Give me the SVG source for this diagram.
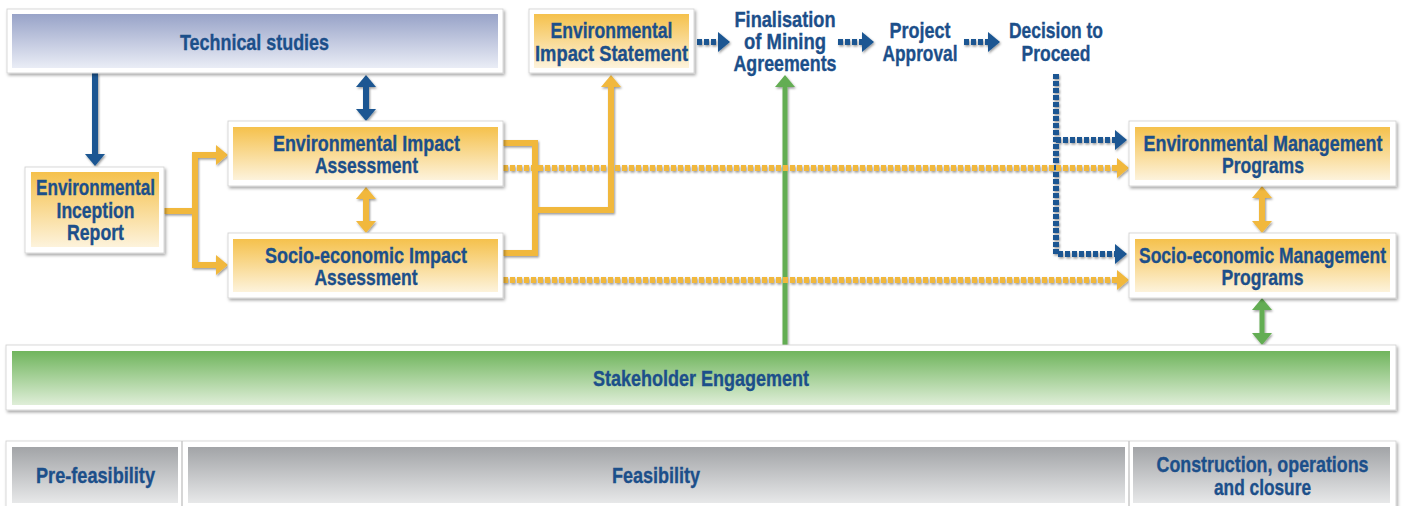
<svg xmlns="http://www.w3.org/2000/svg" width="1402" height="506" viewBox="0 0 1402 506">
<defs>
<style>
.frame{fill:#fff;stroke:#cfcfcf;stroke-width:0.8;filter:url(#sh)}
.t{font-family:"Liberation Sans Narrow","Liberation Sans",Arial,sans-serif;font-weight:bold;font-size:21.5px;fill:#1c4f8a;stroke:#1c4f8a;stroke-width:0.35;text-anchor:middle}
.lb{fill:none;stroke:#1a5692;stroke-width:6}
.lo{fill:none;stroke:#f1b83c;stroke-width:6;stroke-linejoin:miter}
.lg{fill:none;stroke:#63ad52;stroke-width:5}
.dot{stroke-dasharray:5 2}
</style>
<filter id="sh" x="-5%" y="-20%" width="110%" height="150%">
<feDropShadow dx="1.5" dy="2" stdDeviation="1.5" flood-color="#000" flood-opacity="0.35"/>
</filter>
<filter id="lsh" x="-5%" y="-5%" width="110%" height="110%">
<feDropShadow dx="1" dy="1.5" stdDeviation="0.8" flood-color="#000" flood-opacity="0.4"/>
</filter>
<linearGradient id="gBlue" x1="0" y1="0" x2="0" y2="1"><stop offset="0" stop-color="#98a3c8"/><stop offset="1" stop-color="#eaedf6"/></linearGradient>
<linearGradient id="gOr" x1="0" y1="0" x2="0" y2="1"><stop offset="0" stop-color="#f5c14c"/><stop offset="1" stop-color="#fdf3dc"/></linearGradient>
<linearGradient id="gGr" x1="0" y1="0" x2="0" y2="1"><stop offset="0" stop-color="#70b55d"/><stop offset="1" stop-color="#dfeed8"/></linearGradient>
<linearGradient id="gGy" x1="0" y1="0" x2="0" y2="1"><stop offset="0" stop-color="#a2a4a7"/><stop offset="1" stop-color="#e7e8e9"/></linearGradient>
<marker id="ab" viewBox="0 0 12 20" markerWidth="12" markerHeight="20" refX="2" refY="10" orient="auto-start-reverse" markerUnits="userSpaceOnUse"><path d="M0,0 L12,10 L0,20 z" fill="#1a5692"/></marker>
<marker id="ao" viewBox="0 0 12 20" markerWidth="12" markerHeight="20" refX="2" refY="10" orient="auto-start-reverse" markerUnits="userSpaceOnUse"><path d="M0,0 L12,10 L0,20 z" fill="#f1b83c"/></marker>
<marker id="ag" viewBox="0 0 12 20" markerWidth="12" markerHeight="20" refX="2" refY="10" orient="auto-start-reverse" markerUnits="userSpaceOnUse"><path d="M0,0 L12,10 L0,20 z" fill="#63ad52"/></marker>
</defs>
<rect width="1402" height="506" fill="#fff"/>

<g id="connectors" filter="url(#lsh)">
<path class="lb" d="M95,73 V156" marker-end="url(#ab)"/>
<path class="lb" d="M366,85 V111" marker-start="url(#ab)" marker-end="url(#ab)"/>
<path class="lo" d="M164,211 H195 V155 H218" marker-end="url(#ao)"/>
<path class="lo" d="M195,208 V265 H218" marker-end="url(#ao)"/>
<path class="lo" d="M366,197 V223" marker-start="url(#ao)" marker-end="url(#ao)"/>
<path class="lo" d="M503,143 H535 V253 H503"/>
<path class="lo" d="M535,210 H611 V85" marker-end="url(#ao)"/>
<path class="lg" d="M785,345 V85" marker-end="url(#ag)"/>
<path class="lb dot" d="M697,42 H720" marker-end="url(#ab)"/>
<path class="lb dot" d="M838,42 H864" marker-end="url(#ab)"/>
<path class="lb dot" d="M964,42 H990" marker-end="url(#ab)"/>
<path class="lb dot" d="M1056,74 V254 H1117" marker-end="url(#ab)"/>
<path class="lb dot" d="M1056,140 H1117" marker-end="url(#ab)"/>
<path class="lo dot" d="M503,168 H1119" marker-end="url(#ao)"/>
<path class="lo dot" d="M503,280 H1119" marker-end="url(#ao)"/>
<path class="lo" d="M1262,196 V223" marker-start="url(#ao)" marker-end="url(#ao)"/>
<path class="lg" d="M1262,308 V335" marker-start="url(#ag)" marker-end="url(#ag)"/>
</g>

<g id="technical-studies">
<rect class="frame" x="7" y="9" width="496" height="64"/>
<rect x="12" y="14" width="486" height="54" fill="url(#gBlue)"/>
<text class="t" x="254.5" y="50" textLength="149" lengthAdjust="spacingAndGlyphs">Technical studies</text>
</g>

<g id="inception-report">
<rect class="frame" x="25" y="167" width="139" height="86"/>
<rect x="31" y="172" width="128" height="75" fill="url(#gOr)"/>
<text class="t" x="95.5" y="195" textLength="119" lengthAdjust="spacingAndGlyphs">Environmental</text>
<text class="t" x="95.5" y="218" textLength="78" lengthAdjust="spacingAndGlyphs">Inception</text>
<text class="t" x="95.5" y="240" textLength="57" lengthAdjust="spacingAndGlyphs">Report</text>
</g>

<g id="eia">
<rect class="frame" x="228" y="121" width="275" height="65"/>
<rect x="233" y="127" width="265" height="53" fill="url(#gOr)"/>
<text class="t" x="366.5" y="151" textLength="187" lengthAdjust="spacingAndGlyphs">Environmental Impact</text>
<text class="t" x="366.5" y="173" textLength="103" lengthAdjust="spacingAndGlyphs">Assessment</text>
</g>

<g id="sia">
<rect class="frame" x="228" y="233" width="275" height="65"/>
<rect x="233" y="239" width="265" height="53" fill="url(#gOr)"/>
<text class="t" x="366" y="263" textLength="202" lengthAdjust="spacingAndGlyphs">Socio-economic Impact</text>
<text class="t" x="366" y="285" textLength="103" lengthAdjust="spacingAndGlyphs">Assessment</text>
</g>

<g id="eis">
<rect class="frame" x="529" y="9" width="165" height="64"/>
<rect x="534" y="14" width="155" height="54" fill="url(#gOr)"/>
<text class="t" x="611.5" y="38" textLength="122" lengthAdjust="spacingAndGlyphs">Environmental</text>
<text class="t" x="611.5" y="61" textLength="153" lengthAdjust="spacingAndGlyphs">Impact Statement</text>
</g>

<g id="finalisation">
<text class="t" x="785" y="27" textLength="101" lengthAdjust="spacingAndGlyphs">Finalisation</text>
<text class="t" x="785" y="49" textLength="82" lengthAdjust="spacingAndGlyphs">of Mining</text>
<text class="t" x="785" y="71" textLength="103" lengthAdjust="spacingAndGlyphs">Agreements</text>
</g>

<g id="project-approval">
<text class="t" x="920" y="38" textLength="61" lengthAdjust="spacingAndGlyphs">Project</text>
<text class="t" x="920" y="61" textLength="75" lengthAdjust="spacingAndGlyphs">Approval</text>
</g>

<g id="decision">
<text class="t" x="1056" y="38" textLength="94" lengthAdjust="spacingAndGlyphs">Decision to</text>
<text class="t" x="1056" y="61" textLength="69" lengthAdjust="spacingAndGlyphs">Proceed</text>
</g>

<g id="emp">
<rect class="frame" x="1129" y="121" width="267" height="65"/>
<rect x="1135" y="127" width="255" height="53" fill="url(#gOr)"/>
<text class="t" x="1263" y="151" textLength="239" lengthAdjust="spacingAndGlyphs">Environmental Management</text>
<text class="t" x="1263" y="173" textLength="82" lengthAdjust="spacingAndGlyphs">Programs</text>
</g>

<g id="smp">
<rect class="frame" x="1129" y="233" width="267" height="65"/>
<rect x="1135" y="239" width="255" height="53" fill="url(#gOr)"/>
<text class="t" x="1262.5" y="263" textLength="247" lengthAdjust="spacingAndGlyphs">Socio-economic Management</text>
<text class="t" x="1262.5" y="285" textLength="82" lengthAdjust="spacingAndGlyphs">Programs</text>
</g>

<g id="stakeholder">
<rect class="frame" x="6" y="345" width="1390" height="65"/>
<rect x="12" y="351" width="1378" height="54" fill="url(#gGr)"/>
<text class="t" x="701" y="386" textLength="216" lengthAdjust="spacingAndGlyphs">Stakeholder Engagement</text>
</g>

<g id="phases">
<rect class="frame" x="6" y="441" width="1390" height="75"/>
<line x1="182" y1="441" x2="182" y2="506" stroke="#c8c8c8" stroke-width="1.5"/>
<line x1="1129" y1="441" x2="1129" y2="506" stroke="#c8c8c8" stroke-width="1.5"/>
<g id="pre-feasibility">
<rect x="12" y="447" width="166" height="56" fill="url(#gGy)"/>
<text class="t" x="95.5" y="483" textLength="119" lengthAdjust="spacingAndGlyphs">Pre-feasibility</text>
</g>
<g id="feasibility">
<rect x="188" y="447" width="937" height="56" fill="url(#gGy)"/>
<text class="t" x="656" y="483" textLength="88" lengthAdjust="spacingAndGlyphs">Feasibility</text>
</g>
<g id="construction">
<rect x="1133" y="447" width="257" height="56" fill="url(#gGy)"/>
<text class="t" x="1262.5" y="472" textLength="212" lengthAdjust="spacingAndGlyphs">Construction, operations</text>
<text class="t" x="1262.5" y="495" textLength="97" lengthAdjust="spacingAndGlyphs">and closure</text>
</g>
</g>
</svg>
